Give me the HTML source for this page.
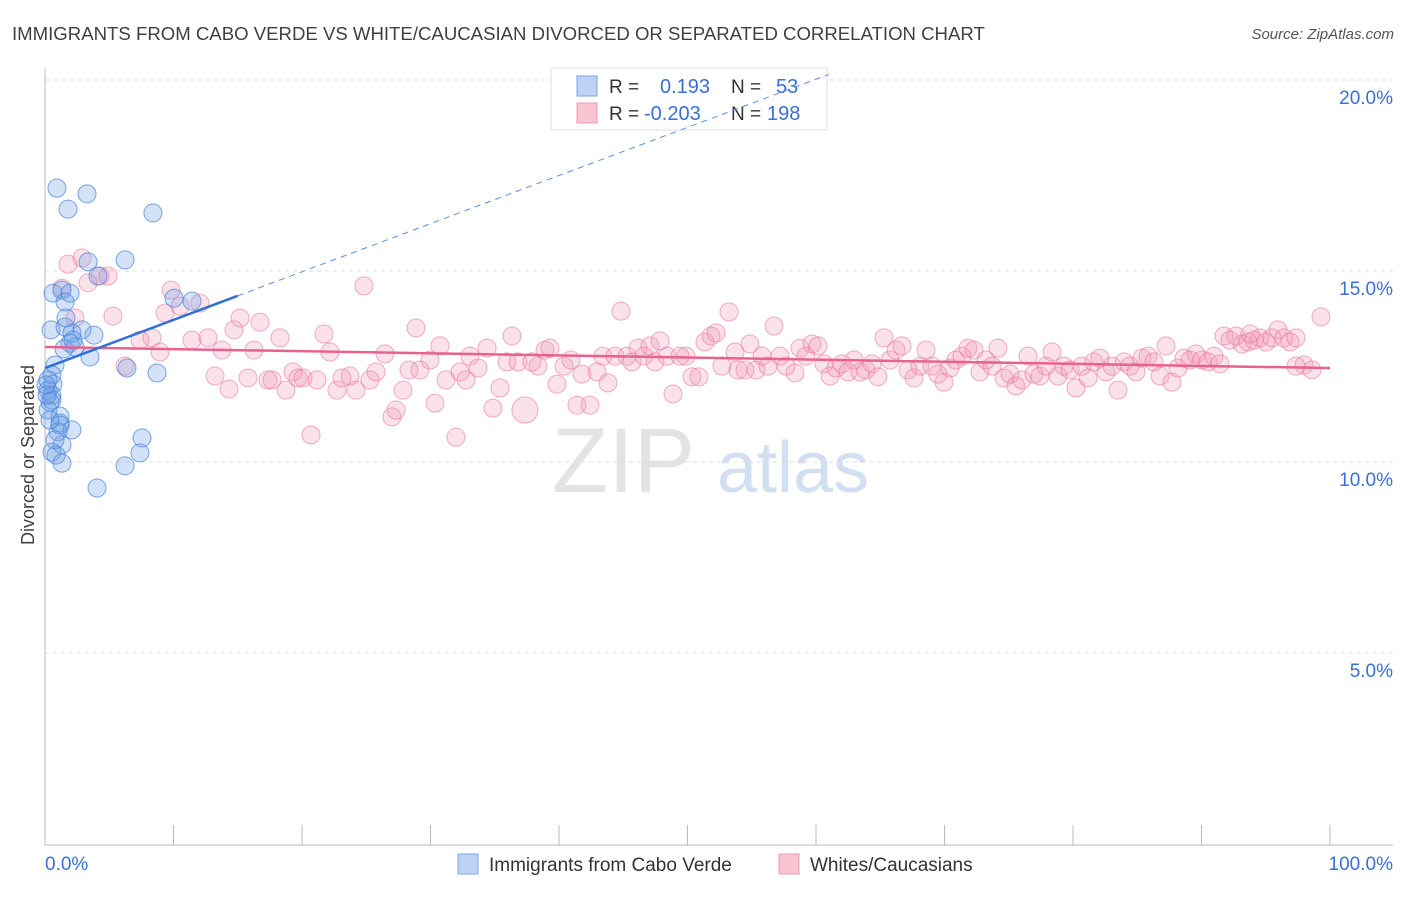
<!DOCTYPE html>
<html><head><meta charset="utf-8"><style>
body{margin:0;background:#fff;font-family:"Liberation Sans",sans-serif}
svg text{font-family:"Liberation Sans",sans-serif}
</style></head><body>
<svg id="chart" width="1406" height="892" xmlns="http://www.w3.org/2000/svg">
<text x="12" y="40" font-size="18.6" fill="#404040">IMMIGRANTS FROM CABO VERDE VS WHITE/CAUCASIAN DIVORCED OR SEPARATED CORRELATION CHART</text>
<text x="1394" y="39" font-size="15" font-style="italic" fill="#555" text-anchor="end">Source: ZipAtlas.com</text>
<text transform="translate(34,455) rotate(-90)" font-size="18" fill="#404040" text-anchor="middle">Divorced or Separated</text>
<g>
<text x="552" y="492" font-size="92" font-family="Liberation Serif" fill="#ddd" opacity="0.8">ZIP</text>
<text x="717" y="492" font-size="72" fill="#c8d8f0" opacity="0.8">atlas</text>
</g>
<g id="grid"></g>
<g>
<rect x="551" y="68" width="276" height="62" fill="#fff" stroke="#ddd"/>
<rect x="577" y="76" width="20" height="20" fill="#bcd3f5" stroke="#7aa6e6"/>
<rect x="577" y="103" width="20" height="20" fill="#f9c5d3" stroke="#ec99b2"/>
<text x="609" y="93" font-size="19" fill="#333">R =</text>
<text x="660" y="93" font-size="20" fill="#3a6fd8">0.193</text>
<text x="731" y="93" font-size="19" fill="#333">N =</text>
<text x="776" y="93" font-size="20" fill="#3a6fd8">53</text>
<text x="609" y="120" font-size="19" fill="#333">R =</text>
<text x="644" y="120" font-size="20" fill="#3a6fd8">-0.203</text>
<text x="731" y="120" font-size="19" fill="#333">N =</text>
<text x="767" y="120" font-size="20" fill="#3a6fd8">198</text>
</g>
<g id="marks"></g>
<g>
<rect x="458" y="854" width="20" height="20" fill="#bcd3f5" stroke="#7aa6e6"/>
<text x="489" y="871" font-size="19" fill="#333">Immigrants from Cabo Verde</text>
<rect x="779" y="854" width="20" height="20" fill="#f9c5d3" stroke="#ec99b2"/>
<text x="810" y="871" font-size="19" fill="#333">Whites/Caucasians</text>
</g>
</svg>
<script>
const yTicks=[5,10,15,20];
const yTickLabels=["5.0%","10.0%","15.0%","20.0%"];
const xTickVals=[0,10,20,30,40,50,60,70,80,90,100];
const xEndLabels=["0.0%","100.0%"];
const blueX=[0.93,3.27,1.79,8.40,6.23,3.35,4.12,0.62,1.32,1.95,10.04,11.44,1.56,0.47,1.56,2.10,2.88,3.81,1.95,2.33,3.50,0.78,0.54,0.62,0.23,0.54,0.54,0.23,1.17,1.17,2.10,1.01,1.32,0.54,0.86,1.32,4.05,6.23,7.39,7.55,8.72,6.38,1.63,0.23,0.39,0.78,1.17,0.39,0.16,0.08,1.48,2.18];
const blueY=[17.17,17.02,16.62,16.52,15.29,15.24,14.87,14.42,14.50,14.42,14.29,14.21,14.19,13.46,13.53,13.38,13.46,13.32,13.11,13.01,12.75,12.54,12.28,12.04,11.88,11.75,11.62,11.36,11.20,11.02,10.84,10.79,10.45,10.26,10.18,9.97,9.32,9.90,10.24,10.63,12.33,12.46,13.77,12.15,11.57,10.58,10.97,11.10,11.75,12.02,12.96,13.19];
const pinkX=[1.79,2.88,4.28,4.90,3.35,1.32,2.33,5.29,6.23,7.39,8.33,8.95,9.81,9.34,10.51,12.06,11.44,12.68,13.23,13.77,14.32,14.71,15.18,15.80,16.26,16.73,17.35,17.67,18.29,18.75,19.30,19.69,20.08,20.70,21.17,21.71,22.18,22.72,23.11,23.74,24.20,24.82,25.29,25.76,26.46,27.00,27.32,27.86,28.33,28.87,29.18,29.96,30.35,30.74,31.21,31.98,32.30,32.76,33.07,33.70,34.40,34.86,35.41,35.95,36.34,36.81,37.35,37.90,38.37,38.91,39.30,39.84,40.39,40.93,41.40,41.79,42.41,42.96,43.42,43.81,44.36,44.82,45.29,45.68,46.15,46.61,47.08,47.47,47.86,48.40,48.87,49.42,49.88,50.35,50.89,51.36,51.83,52.22,52.68,53.23,53.70,53.93,54.47,54.86,55.33,55.80,56.26,56.73,57.20,57.67,58.37,58.75,59.22,59.69,60.16,60.62,61.09,61.56,62.02,62.49,62.96,63.42,63.89,64.36,64.82,65.29,65.76,66.23,66.69,67.16,67.63,68.09,68.56,69.03,69.49,69.96,70.43,70.89,71.36,71.83,72.30,72.76,73.23,73.70,74.16,74.63,75.10,75.56,76.03,76.50,76.96,77.43,77.90,78.37,78.83,79.30,79.77,80.23,80.70,81.17,81.63,82.10,82.57,83.04,83.50,83.97,84.44,84.90,85.37,85.84,86.30,86.77,87.24,87.70,88.17,88.64,89.11,89.57,90.04,90.51,90.97,91.44,91.75,92.22,92.68,93.15,93.62,94.09,94.55,95.02,95.49,95.95,96.42,96.89,97.35,97.98,98.60,99.30,97.35,93.77];
const pinkY=[15.18,15.34,14.87,14.87,14.69,14.55,13.77,13.82,12.51,13.19,13.25,12.88,14.50,13.90,14.08,14.16,13.19,13.25,12.25,12.93,11.91,13.46,13.77,12.20,12.93,13.66,12.15,12.15,13.25,11.88,12.36,12.20,12.20,10.71,12.15,13.35,12.88,11.88,12.20,12.25,11.88,14.61,12.15,12.36,12.83,11.18,11.36,11.88,12.41,13.51,12.41,12.67,11.54,13.04,12.15,10.65,12.36,12.15,12.77,12.46,12.98,11.41,11.94,12.62,13.30,12.62,11.36,12.62,12.51,12.93,12.98,12.04,12.51,12.67,11.49,12.30,11.49,12.36,12.77,12.07,12.77,13.95,12.77,12.62,12.98,12.77,13.04,12.62,13.17,12.77,11.78,12.77,12.77,12.23,12.23,13.14,13.30,13.38,12.51,13.93,12.88,12.41,12.41,13.09,12.41,12.77,12.51,13.56,12.77,12.51,12.33,12.98,12.77,13.09,13.04,12.57,12.25,12.46,12.57,12.36,12.67,12.36,12.41,12.57,12.23,13.25,12.67,12.93,13.04,12.41,12.20,12.51,12.93,12.51,12.30,12.09,12.46,12.67,12.77,12.98,12.93,12.36,12.67,12.51,12.98,12.20,12.30,11.99,12.15,12.77,12.30,12.25,12.51,12.88,12.25,12.51,12.41,11.94,12.51,12.20,12.62,12.72,12.36,12.51,11.88,12.62,12.51,12.36,12.72,12.77,12.62,12.25,13.04,12.09,12.46,12.72,12.67,12.83,12.67,12.62,12.77,12.57,13.30,13.19,13.30,13.09,13.14,13.19,13.25,13.14,13.25,13.46,13.25,13.14,13.25,12.54,12.41,13.80,12.51,13.35];
const blueTrend=[12.46,0.126];
const pinkTrend=[13.01,-0.0055];
const blueSolidEnd=15;

const NS="http://www.w3.org/2000/svg";
const X0=45,X1=1330,Y0=844,PPY=38.2;
function sx(v){return X0+(X1-X0)*v/100;}
function sy(v){return Y0-v*PPY;}
function mk(t,a,p){const e=document.createElementNS(NS,t);for(const k in a)e.setAttribute(k,a[k]);p.appendChild(e);return e;}
const grid=document.getElementById('grid'),marks=document.getElementById('marks');
yTicks.forEach((t,i)=>{
  const l=mk('line',{x1:X0,x2:1393,y1:sy(t),y2:sy(t),stroke:'#ddd','stroke-dasharray':'4,4'},grid);
  
  
  const tx=mk('text',{x:1393,y:sy(t)+24,'font-size':19,fill:'#3a6fd8','text-anchor':'end'},grid);
  tx.textContent=yTickLabels[i];
  
  
});
const ya=mk('line',{x1:X0,x2:X0,y1:68,y2:845,stroke:'#bbb'},grid);


const xa=mk('line',{x1:X0,x2:1393,y1:845,y2:845,stroke:'#bbb'},grid);


xTickVals.forEach(v=>{
  const t=mk('line',{x1:sx(v),x2:sx(v),y1:825,y2:845,stroke:'#bbb'},grid);
  
  
});
[[0,'start',X0],[100,'end',1393]].forEach((d,i)=>{
  const t=mk('text',{x:d[2],y:870,'font-size':19,fill:'#3a6fd8','text-anchor':d[1]},grid);
  t.textContent=xEndLabels[i];
  
  
});
pinkX.forEach((x,i)=>{
  const c=mk('circle',{cx:sx(x),cy:sy(pinkY[i]),r:(i==66?13:9),fill:'rgba(242,150,178,0.28)',stroke:'rgba(232,120,155,0.6)','stroke-width':1},marks);
  
  
});
blueX.forEach((x,i)=>{
  const c=mk('circle',{cx:sx(x),cy:sy(blueY[i]),r:9,fill:'rgba(110,160,230,0.3)',stroke:'rgba(70,130,220,0.7)','stroke-width':1},marks);
  
  
});
const pl=mk('line',{x1:sx(0),y1:sy(pinkTrend[0]),x2:sx(100),y2:sy(pinkTrend[0]+100*pinkTrend[1]),stroke:'#e8628e','stroke-width':2.5},marks);


const bl=mk('line',{x1:sx(0),y1:sy(blueTrend[0]),x2:sx(blueSolidEnd),y2:sy(blueTrend[0]+blueSolidEnd*blueTrend[1]),stroke:'#2f6fd6','stroke-width':2.5},marks);


const bd=mk('line',{x1:sx(blueSolidEnd),y1:sy(blueTrend[0]+blueSolidEnd*blueTrend[1]),x2:sx(61),y2:sy(blueTrend[0]+61*blueTrend[1]),stroke:'#5a8fdc','stroke-width':1,'stroke-dasharray':'6,5'},marks);


</script>
</body></html>
